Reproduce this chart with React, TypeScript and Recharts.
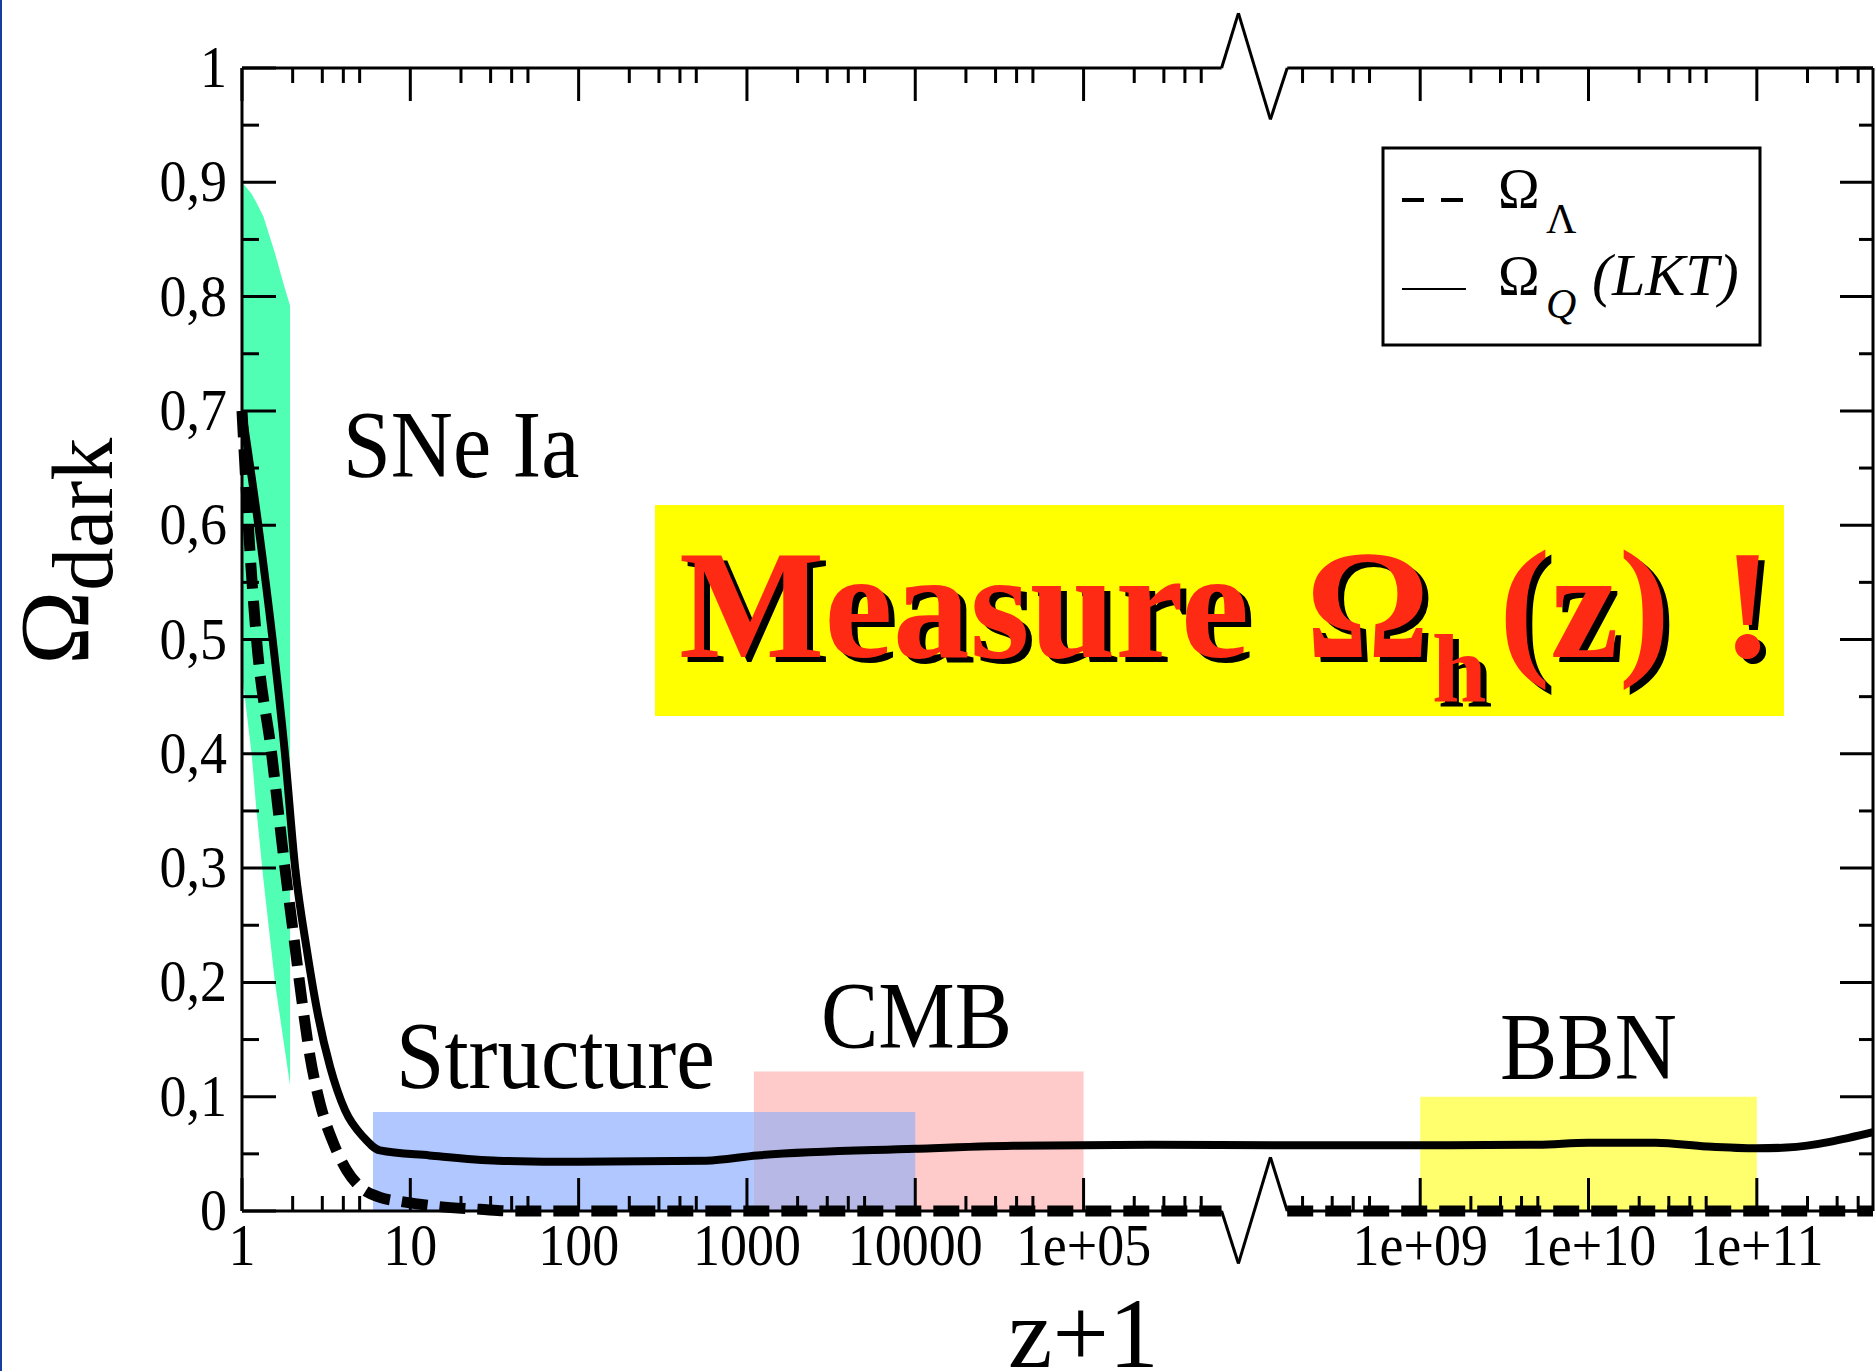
import React from 'react';
import {
  ComposedChart,
  Line,
  Area,
  XAxis,
  YAxis,
  ReferenceArea,
  ReferenceLine
} from 'recharts';

// Omega_Lambda (dashed), x is z+1; null = axis break
const lambdaZ = [1, 1.09, 1.22, 1.5, 1.8, 2.02, 2.27, 2.54, 2.91, 3.5, 4.2, 5.04, 6.6, 9.1, 14.5, 26, 40, 6.6e5, 1e7, 1.62e8, 4.9e11];
const lambdaOmega = [0.7, 0.6, 0.5, 0.4, 0.3, 0.2425, 0.184, 0.1346, 0.094, 0.059, 0.0354, 0.021, 0.012, 0.008, 0.004, 0.0015, 0, 0, null, 0, 0];

// Omega_Q (LKT), solid
const quintZ = [1, 1.25, 1.52, 1.8, 2.07, 2.43, 2.84, 3.34, 4.1, 5.27, 6.6, 13, 33, 100, 570, 1150, 1e4, 3.8e4, 2.5e5, 1.62e8, 1e9, 5e9, 1e10, 2.5e10, 5e10, 1e11, 1.5e11, 4.9e11];
const quintOmega = [0.7, 0.6, 0.5, 0.4, 0.3, 0.228, 0.17, 0.126, 0.088, 0.0646, 0.053, 0.0486, 0.044, 0.043, 0.044, 0.0486, 0.0544, 0.057, 0.058, 0.0575, 0.0575, 0.058, 0.0598, 0.0598, 0.0565, 0.0548, 0.0555, 0.069];

// SNe Ia band
const snZ = [1, 1.14, 1.22, 1.34, 1.57, 1.76, 1.93];
const snLow = [0.47, 0.4, 0.35, 0.29, 0.2, 0.15, 0.11];
const snHigh = [0.9, 0.89, 0.882, 0.87, 0.838, 0.812, 0.792];

// probe boxes
const bandNames = ['Structure', 'CMB', 'BBN'];
const bandFrom = [6, 1100, 1e9];
const bandTo = [1e4, 1e5, 1e11];
const bandTop = [0.0866, 0.122, 0.1];

// ticks
const xMajor = [1, 10, 100, 1000, 1e4, 1e5, 1e9, 1e10, 1e11];
const xMajorLabels = ['1', '10', '100', '1000', '10000', '1e+05', '1e+09', '1e+10', '1e+11'];
const xMinorDecades = [1, 10, 100, 1000, 1e4, 1e5, 1e8, 1e9, 1e10, 1e11];
const xMinorSteps = [2, 3, 4, 5];
const yMajor = [0, 0.1, 0.2, 0.3, 0.4, 0.5, 0.6, 0.7, 0.8, 0.9, 1];
const yMajorLabels = ['0', '0,1', '0,2', '0,3', '0,4', '0,5', '0,6', '0,7', '0,8', '0,9', '1'];
const yMinor = [0.05, 0.15, 0.25, 0.35, 0.45, 0.55, 0.65, 0.75, 0.85, 0.95];

// axis break: log10(z+1) from 5.82 to 8.21 is cut down to a short gap
const BREAK_LO = 5.82;
const BREAK_HI = 8.21;
const BREAK_SHIFT = 2;
const X_MAX = 4.9e11;
const zigU = [5.82, 5.92, 6.11, 6.21];
const zigTop = [1, 1.048, 0.955, 1];
const zigBottom = [0, -0.046, 0.047, 0];

const toAxis = (zp1: number) => {
  const lg = Math.log10(zp1);
  if (lg <= BREAK_LO) return lg;
  if (lg >= BREAK_HI) return lg - BREAK_SHIFT;
  return BREAK_LO + ((lg - BREAK_LO) / (BREAK_HI - BREAK_LO)) * (BREAK_HI - BREAK_SHIFT - BREAK_LO);
};

const U_MAX = toAxis(X_MAX);
const SERIF = "'Liberation Serif', 'Times New Roman', serif";
const STRETCH = 'scale(1 1.1)';
const bandColors = ['#b0c8ff', '#ffcaca', '#ffff6e'];
const overlapColor = '#b8b8e6';

const lambdaData = lambdaZ.map((z, i) => ({ u: toAxis(z), v: lambdaOmega[i] }));
const quintData = quintZ.map((z, i) => ({ u: toAxis(z), v: quintOmega[i] }));
const snData = snZ.map((z, i) => ({ u: toAxis(z), range: [snLow[i], snHigh[i]] }));
const frameData = [{ u: 0, v: 0 }, { u: U_MAX, v: 1 }];

const xMajorU = xMajor.map(toAxis);
const xTicks = [
  ...xMajorU,
  ...xMinorDecades.flatMap((d) => xMinorSteps.map((s) => toAxis(d * s)))
].filter((u) => u <= U_MAX + 1e-9);
const yTicks = [...yMajor, ...yMinor];

const majorX = (u: number) => xMajorU.findIndex((m) => Math.abs(m - u) < 1e-6);
const majorY = (v: number) => yMajor.findIndex((m) => Math.abs(m - v) < 1e-6);

const BottomTick = (props: any) => {
  const { x, y, payload } = props;
  const i = majorX(payload.value);
  return (
    <g>
      <line x1={x} x2={x} y1={y} y2={y - (i >= 0 ? 33 : 15)} stroke="#000" strokeWidth={3} />
      {i >= 0 && (
        <text
          transform={`translate(${x} ${y + 54}) ${STRETCH}`}
          textAnchor="middle"
          fontSize={54}
          fontFamily={SERIF}
          fill="#000"
        >
          {xMajorLabels[i]}
        </text>
      )}
    </g>
  );
};

const TopTick = (props: any) => {
  const { x, y, payload } = props;
  const i = majorX(payload.value);
  return <line x1={x} x2={x} y1={y} y2={y + (i >= 0 ? 33 : 15)} stroke="#000" strokeWidth={3} />;
};

const LeftTick = (props: any) => {
  const { x, y, payload } = props;
  const i = majorY(payload.value);
  return (
    <g>
      <line x1={x} x2={x + (i >= 0 ? 34 : 17)} y1={y} y2={y} stroke="#000" strokeWidth={3} />
      {i >= 0 && (
        <text
          transform={`translate(${x - 15} ${y + 19}) ${STRETCH}`}
          textAnchor="end"
          fontSize={54}
          fontFamily={SERIF}
          fill="#000"
        >
          {yMajorLabels[i]}
        </text>
      )}
    </g>
  );
};

const RightTick = (props: any) => {
  const { x, y, payload } = props;
  const i = majorY(payload.value);
  return <line x1={x} x2={x - (i >= 0 ? 33 : 14)} y1={y} y2={y} stroke="#000" strokeWidth={3} />;
};

function Overlay() {
  const label = (text: string, x: number, y: number, size: number) => (
    <text transform={`translate(${x} ${y}) ${STRETCH}`} fontSize={size} fill="#000">
      {text}
    </text>
  );
  return (
    <svg
      width={1876}
      height={1371}
      style={{ position: 'absolute', left: 0, top: 0, pointerEvents: 'none' }}
      fontFamily={SERIF}
    >
      {/* axis titles */}
      <text transform="translate(88 665) rotate(-90)" fontSize={100} fill="#000">
        Ω<tspan fontSize={86} dy={24}>dark</tspan>
      </text>
      <text x={1008} y={1367} fontSize={100} fill="#000">z+1</text>

      {/* probe labels */}
      {label('SNe Ia', 343, 477, 86)}
      {label(bandNames[0], 396, 1088, 87)}
      {label(bandNames[1], 821, 1048, 86)}
      {label(bandNames[2], 1500, 1079, 86)}

      {/* call-out */}
      <rect x={655} y={505} width={1129} height={211} fill="#ffff00" />
      <text
        x={679}
        y={657}
        fontSize={154}
        fontWeight="bold"
        fill="#ff2a14"
        style={{ filter: 'drop-shadow(6px 5px 0 #000)' }}
      >
        Measure
        <tspan x={1306}>Ω</tspan>
        <tspan x={1432} dy={45} fontSize={98}>h</tspan>
        <tspan x={1499} dy={-45}>(z)</tspan>
        <tspan x={1722}>!</tspan>
      </text>

      {/* legend */}
      <rect x={1383} y={148} width={377} height={197} fill="#fff" stroke="#000" strokeWidth={3} />
      <line x1={1402} x2={1464} y1={200} y2={200} stroke="#000" strokeWidth={4} strokeDasharray="22 17" />
      <text x={1498} y={208} fontSize={56} fill="#000">
        Ω<tspan x={1546} dy={25} fontSize={42}>Λ</tspan>
      </text>
      <line x1={1402} x2={1466} y1={289} y2={289} stroke="#000" strokeWidth={2} />
      <text x={1498} y={295} fontSize={56} fill="#000">
        Ω<tspan x={1546} dy={23} fontSize={42} fontStyle="italic">Q</tspan>
        <tspan x={1592} dy={-23} fontSize={60} fontStyle="italic">(LKT)</tspan>
      </text>
    </svg>
  );
}

export default function App() {
  return (
    <div style={{ position: 'absolute', left: 0, top: 0, width: 1876, height: 1371, background: '#fff', overflow: 'hidden' }}>
      <div style={{ position: 'absolute', left: 0, top: 0, width: 2, height: 1371, background: '#173e9e' }} />
      <ComposedChart width={1876} height={1371} margin={{ top: 48, right: 0, bottom: 100, left: 142 }}>
        <XAxis
          dataKey="u"
          type="number"
          domain={[0, U_MAX]}
          ticks={xTicks}
          interval={0}
          axisLine={false}
          tickLine={false}
          tickSize={0}
          tickMargin={0}
          height={60}
          tick={<BottomTick />}
        />
        <XAxis
          xAxisId="top"
          orientation="top"
          dataKey="u"
          type="number"
          domain={[0, U_MAX]}
          ticks={xTicks}
          interval={0}
          axisLine={false}
          tickLine={false}
          tickSize={0}
          tickMargin={0}
          height={20}
          tick={<TopTick />}
        />
        <YAxis
          type="number"
          domain={[0, 1]}
          ticks={yTicks}
          interval={0}
          width={100}
          axisLine={{ stroke: '#000', strokeWidth: 3 }}
          tickLine={false}
          tickSize={0}
          tickMargin={0}
          tick={<LeftTick />}
        />
        <YAxis
          yAxisId="right"
          orientation="right"
          type="number"
          domain={[0, 1]}
          ticks={yTicks}
          interval={0}
          width={3}
          axisLine={{ stroke: '#000', strokeWidth: 3 }}
          tickLine={false}
          tickSize={0}
          tickMargin={0}
          tick={<RightTick />}
        />

        {bandNames.map((name, i) => (
          <ReferenceArea
            key={name}
            x1={toAxis(bandFrom[i])}
            x2={toAxis(bandTo[i])}
            y1={0}
            y2={bandTop[i]}
            fill={bandColors[i]}
            fillOpacity={1}
            stroke="none"
          />
        ))}
        <ReferenceArea
          x1={toAxis(Math.max(bandFrom[0], bandFrom[1]))}
          x2={toAxis(Math.min(bandTo[0], bandTo[1]))}
          y1={0}
          y2={Math.min(bandTop[0], bandTop[1])}
          fill={overlapColor}
          fillOpacity={1}
          stroke="none"
        />

        <Area
          data={snData}
          dataKey="range"
          type="linear"
          stroke="none"
          fill="#50ffb4"
          fillOpacity={1}
          isAnimationActive={false}
        />

        {/* frame lines of x axes, with the break zigzag */}
        <ReferenceLine segment={[{ x: 0, y: 0 }, { x: zigU[0], y: 0 }]} stroke="#000" strokeWidth={3} ifOverflow="visible" />
        <ReferenceLine segment={[{ x: zigU[3], y: 0 }, { x: U_MAX, y: 0 }]} stroke="#000" strokeWidth={3} ifOverflow="visible" />
        <ReferenceLine segment={[{ x: 0, y: 1 }, { x: zigU[0], y: 1 }]} stroke="#000" strokeWidth={3} ifOverflow="visible" />
        <ReferenceLine segment={[{ x: zigU[3], y: 1 }, { x: U_MAX, y: 1 }]} stroke="#000" strokeWidth={3} ifOverflow="visible" />
        {zigU.slice(1).map((u, i) => (
          <ReferenceLine
            key={`zb${i}`}
            segment={[{ x: zigU[i], y: zigBottom[i] }, { x: u, y: zigBottom[i + 1] }]}
            stroke="#000"
            strokeWidth={3}
            ifOverflow="visible"
          />
        ))}
        {zigU.slice(1).map((u, i) => (
          <ReferenceLine
            key={`zt${i}`}
            segment={[{ x: zigU[i], y: zigTop[i] }, { x: u, y: zigTop[i + 1] }]}
            stroke="#000"
            strokeWidth={3}
            ifOverflow="visible"
          />
        ))}

        <Line
          xAxisId="top"
          yAxisId="right"
          data={frameData}
          dataKey="v"
          stroke="none"
          dot={false}
          isAnimationActive={false}
        />
        <Line
          data={lambdaData}
          dataKey="v"
          type="monotone"
          stroke="#000"
          strokeWidth={11}
          strokeDasharray="26 12"
          dot={false}
          connectNulls={false}
          isAnimationActive={false}
        />
        <Line
          data={quintData}
          dataKey="v"
          type="monotone"
          stroke="#000"
          strokeWidth={8}
          dot={false}
          isAnimationActive={false}
        />
      </ComposedChart>
      <Overlay />
    </div>
  );
}
